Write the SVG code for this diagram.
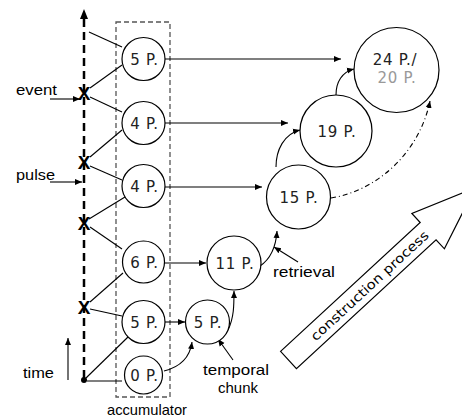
<svg xmlns="http://www.w3.org/2000/svg" width="462" height="420" viewBox="0 0 462 420">
<style>
.n{fill:#fff;stroke:#000;stroke-width:1.2}
.t{font-family:"DejaVu Sans",Verdana,sans-serif;font-size:15px;letter-spacing:0.7px;text-anchor:middle;fill:#222}
.g{fill:#999}
.l{font-family:"Liberation Sans",Arial,sans-serif;font-size:15px;fill:#000}
.x{font-family:"Liberation Sans",Arial,sans-serif;font-size:19px;font-weight:bold;text-anchor:middle;fill:#000}
.c{fill:none;stroke:#000;stroke-width:1.1}
.a{marker-end:url(#ah)}
</style>
<defs>
<marker id="ah" markerUnits="userSpaceOnUse" markerWidth="8" markerHeight="8" refX="7" refY="4" orient="auto">
<path d="M0,1 L7,4 L0,7 Z" fill="#000"/>
</marker>
</defs>
<rect x="0" y="0" width="462" height="420" fill="#fff"/>
<g id="accumulator">
<rect x="116" y="22" width="54" height="375" fill="none" stroke="#555" stroke-width="1.3" stroke-dasharray="5,3"/>
<text class="l" x="147" y="415" text-anchor="middle" textLength="80" lengthAdjust="spacingAndGlyphs">accumulator</text>
</g>
<g id="time-axis">
<line x1="84" y1="378" x2="84" y2="18" stroke="#000" stroke-width="2.5" stroke-dasharray="8,5"/>
<path d="M84,9 L80,19 L88,19 Z" fill="#000"/>
<circle cx="84" cy="380" r="3" fill="#000"/>
<text class="x" x="84" y="100">X</text>
<text class="x" x="84" y="169">X</text>
<text class="x" x="84" y="230">X</text>
<text class="x" x="84" y="314">X</text>
</g>
<g id="labels">
<text class="l" x="16" y="95" textLength="41" lengthAdjust="spacingAndGlyphs">event</text>
<text class="l" x="16" y="180" textLength="39" lengthAdjust="spacingAndGlyphs">pulse</text>
<text class="l" x="23" y="378" textLength="31" lengthAdjust="spacingAndGlyphs">time</text>
<text class="l" x="273" y="277" textLength="62" lengthAdjust="spacingAndGlyphs">retrieval</text>
<text class="l" x="203" y="375" textLength="66" lengthAdjust="spacingAndGlyphs">temporal</text>
<text class="l" x="218" y="393" textLength="40" lengthAdjust="spacingAndGlyphs">chunk</text>
</g>
<g id="connectors">
<line class="c a" x1="50" y1="99" x2="80" y2="99"/>
<line class="c a" x1="50" y1="182" x2="82" y2="182"/>
<line class="c a" x1="68" y1="380" x2="68" y2="338"/>
<line class="c" x1="89" y1="32" x2="122" y2="47"/>
<line class="c" x1="90" y1="88" x2="122" y2="65"/>
<line class="c" x1="90" y1="97" x2="122" y2="112"/>
<line class="c" x1="90" y1="157" x2="122" y2="130"/>
<line class="c" x1="90" y1="166" x2="122" y2="180"/>
<line class="c" x1="89" y1="219" x2="125" y2="197"/>
<line class="c" x1="90" y1="227" x2="122" y2="249"/>
<line class="c" x1="90" y1="302" x2="123" y2="273"/>
<line class="c" x1="90" y1="309" x2="122" y2="316"/>
<line class="c" x1="86" y1="378" x2="128" y2="337"/>
<line class="c" x1="87" y1="381" x2="122" y2="381"/>
<line class="c a" x1="165" y1="59" x2="341" y2="59"/>
<line class="c a" x1="165" y1="123" x2="288" y2="123"/>
<line class="c a" x1="165" y1="187" x2="262" y2="187"/>
<line class="c a" x1="165" y1="263" x2="206" y2="263"/>
<line class="c a" x1="165" y1="322" x2="185" y2="322"/>
<path class="c a" d="M164,371 C180,367 190,357 192,342"/>
<path class="c a" d="M228,330 C234,318 234,305 234,291"/>
<path class="c a" d="M260,266 C272,258 276,246 277,231"/>
<path class="c a" d="M276,167 C276,150 284,134 300,130"/>
<path class="c a" d="M336,95 C336,82 342,72 354,69"/>
<path class="c a" d="M331,198 C380,190 420,150 430,101" stroke-dasharray="5,3,1,3"/>
<line class="c a" x1="298" y1="262" x2="274" y2="247"/>
<line class="c a" x1="233" y1="360" x2="218" y2="339"/>
</g>
<g id="n-5a"><circle class="n" cx="143.5" cy="59" r="21.5"/><text class="t" x="144.5" y="64.5">5 P.</text></g>
<g id="n-4a"><circle class="n" cx="143.5" cy="123" r="21.5"/><text class="t" x="144.5" y="128.5">4 P.</text></g>
<g id="n-4b"><circle class="n" cx="143.5" cy="186" r="21.5"/><text class="t" x="144.5" y="191.5">4 P.</text></g>
<g id="n-6"><circle class="n" cx="143.5" cy="262" r="21"/><text class="t" x="144.5" y="267.5">6 P.</text></g>
<g id="n-5b"><circle class="n" cx="143.5" cy="322" r="21.5"/><text class="t" x="144.5" y="327.5">5 P.</text></g>
<g id="n-0"><circle class="n" cx="143.5" cy="375" r="19"/><text class="t" x="144.5" y="380.5">0 P.</text></g>
<g id="n-5c"><circle class="n" cx="207.5" cy="322" r="22"/><text class="t" x="208" y="327.5">5 P.</text></g>
<g id="n-11"><circle class="n" cx="234" cy="263" r="27"/><text class="t" x="235" y="268.5">11 P.</text></g>
<g id="n-15"><circle class="n" cx="298.5" cy="197" r="32"/><text class="t" x="299" y="202.5">15 P.</text></g>
<g id="n-19"><circle class="n" cx="336" cy="131" r="36"/><text class="t" x="337" y="136.5">19 P.</text></g>
<g id="n-24"><circle class="n" cx="396.5" cy="70" r="42.5"/><text class="t" x="395" y="65">24 P./</text><text class="t g" x="397" y="83">20 P.</text></g>
<g id="construction-arrow" transform="translate(288.5,360) rotate(-42.7)">
<path d="M0,-11.7 L190,-11.7 L190,-24 L254,0 L190,24 L190,11.7 L0,11.7 Z" fill="#fff" stroke="#000" stroke-width="1.2"/>
<text x="110" y="5" text-anchor="middle" font-family="DejaVu Sans, Verdana, sans-serif" font-size="13" textLength="155" lengthAdjust="spacingAndGlyphs">construction process</text>
</g>
</svg>
